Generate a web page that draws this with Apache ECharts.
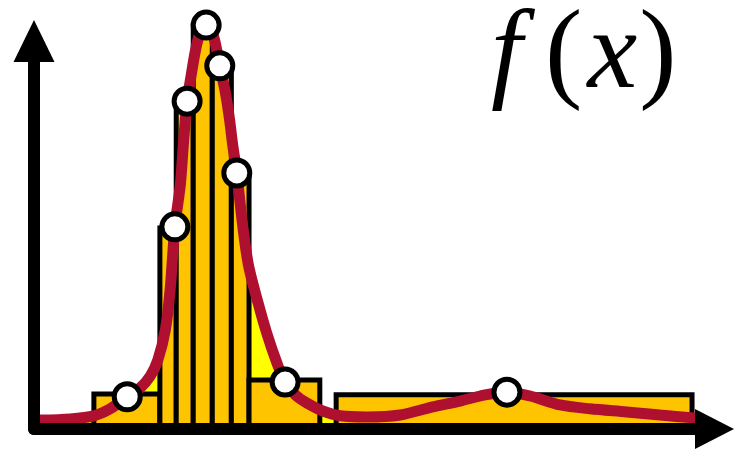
<!DOCTYPE html>
<html>
<head>
<meta charset="utf-8">
<script src="https://cdn.jsdelivr.net/npm/echarts/dist/echarts.min.js"></script>
<style>
  html, body { margin: 0; padding: 0; background: #fff; }
  #chart { width: 735px; height: 452px; }
</style>
</head>
<body>
<div id="chart"></div>
<script>
// Variable-width histogram bins (left edge, right edge, height)
const binLeft   = [8.8, 18.5, 20.9, 23.4, 26.2, 29.0, 31.6, 44.4];
const binRight  = [18.5, 20.9, 23.4, 26.2, 29.0, 31.6, 42.0, 96.7];
const binHeight = [9.0, 51.8, 84.8, 103.9, 93.6, 65.7, 12.6, 8.8];

// Sampled density curve f(x)
const curveX = [0.9, 5.3, 8.8, 11.2, 13.7, 15.6, 17.1, 18.2, 19.3, 20.0,
                20.7, 21.5, 22.0, 22.5, 23.1, 23.8, 24.5, 25.3, 26.2, 26.7,
                27.3, 28.1, 28.7, 29.2, 29.8, 30.4, 31.0, 31.6, 32.8, 34.2,
                35.7, 36.9, 38.4, 40.1, 42.5, 45.0, 48.9, 53.8, 58.6, 62.6,
                66.3, 69.5, 72.9, 77.3, 81.7, 87.1, 92.0, 97.4];
const curveY = [2.3, 2.6, 3.4, 5.2, 8.3, 10.6, 13.7, 17.8, 25.5, 35.8,
                52.1, 62.9, 74.5, 84.5, 91.2, 98.2, 102.6, 104.1, 102.1, 99.0,
                93.6, 86.9, 80.2, 73.2, 66.0, 56.4, 47.9, 41.5, 33.3, 24.7,
                17.0, 12.1, 8.8, 6.7, 4.6, 3.4, 3.1, 3.6, 5.7, 7.2,
                8.8, 9.5, 8.5, 6.2, 5.2, 4.4, 3.6, 2.8];

// Sample points marked on the curve
const pointX = [13.7, 20.7, 22.5, 25.3, 27.3, 29.8, 36.9, 69.5];
const pointY = [8.3, 52.1, 84.5, 104.1, 93.6, 66.0, 12.1, 9.5];

const BAR_FILL = '#FFC400';
const AREA_FILL = '#FFFF00';
const CURVE_COLOR = '#B01030';

const binData = binLeft.map((l, i) => [l, binRight[i], binHeight[i]]);
const curveData = curveX.map((x, i) => [x, curveY[i]]);
const pointData = pointX.map((x, i) => [x, pointY[i]]);

const chart = echarts.init(document.getElementById('chart'));

const axisCommon = {
  type: 'value',
  min: 0,
  max: 100,
  z: 10,
  splitLine: { show: false },
  axisTick: { show: false },
  axisLabel: { show: false },
  axisLine: {
    show: true,
    onZero: false,
    symbol: ['none', 'triangle'],
    lineStyle: { color: '#000', width: 12, cap: 'round' }
  }
};

const MATH_FONT = '"Liberation Serif", "Times New Roman", Times, Tinos, "Noto Serif", "DejaVu Serif", serif';
const mathSeg = (italic, padRight) => ({
  fontFamily: MATH_FONT,
  fontStyle: italic ? 'italic' : 'normal',
  fontWeight: 'normal',
  fontSize: 112,
  lineHeight: 120,
  color: '#000',
  padding: [0, padRight, 0, 0]
});

chart.setOption({
  animation: false,
  backgroundColor: '#fff',
  grid: { left: 34, right: 20.5, top: 41, bottom: 23 },
  title: {
    // f(x): italic letters, upright parentheses
    text: '{i|f}{p|(}{j|x}{r|)}',
    left: 491,
    top: -2,
    padding: 0,
    textStyle: {
      fontFamily: MATH_FONT,
      fontSize: 112,
      rich: {
        i: mathSeg(true, 23),
        p: mathSeg(false, 5),
        j: mathSeg(true, 2),
        r: mathSeg(false, 0)
      }
    }
  },
  xAxis: Object.assign({}, axisCommon, {
    axisLine: Object.assign({}, axisCommon.axisLine, { symbolSize: [40, 39] })
  }),
  yAxis: Object.assign({}, axisCommon, {
    axisLine: Object.assign({}, axisCommon.axisLine, { symbolSize: [41, 42] })
  }),
  series: [
    {
      // area under the density curve
      type: 'line',
      data: curveData,
      smooth: 0.3,
      symbol: 'none',
      clip: false,
      z: 1,
      lineStyle: { width: 0, opacity: 0 },
      areaStyle: { color: AREA_FILL, opacity: 1 }
    },
    {
      // histogram bins
      type: 'custom',
      data: binData,
      encode: { x: [0, 1], y: 2 },
      z: 2,
      renderItem: function (params, api) {
        const topLeft = api.coord([api.value(0), api.value(2)]);
        const bottomRight = api.coord([api.value(1), 0]);
        return {
          type: 'rect',
          shape: {
            x: topLeft[0],
            y: topLeft[1],
            width: bottomRight[0] - topLeft[0],
            height: bottomRight[1] - topLeft[1]
          },
          style: { fill: BAR_FILL, stroke: '#000', lineWidth: 5 }
        };
      }
    },
    {
      // density curve
      type: 'line',
      data: curveData,
      smooth: 0.3,
      symbol: 'none',
      clip: false,
      z: 3,
      lineStyle: { color: CURVE_COLOR, width: 11, cap: 'round' }
    },
    {
      // sample points
      type: 'scatter',
      data: pointData,
      symbol: 'circle',
      symbolSize: 26,
      clip: false,
      z: 4,
      itemStyle: { color: '#fff', borderColor: '#000', borderWidth: 5, opacity: 1 }
    }
  ]
});
</script>
</body>
</html>
